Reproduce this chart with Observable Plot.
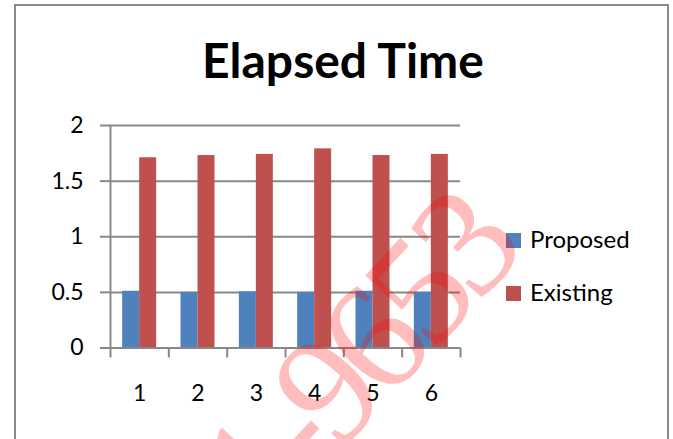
<!DOCTYPE html>
<html>
<head>
<meta charset="utf-8">
<script src="https://cdn.jsdelivr.net/npm/d3@7"></script>
<script src="https://cdn.jsdelivr.net/npm/@observablehq/plot@0.6"></script>
<style>
  html, body { margin: 0; padding: 0; background: #fff; }
  #wrap { position: relative; width: 673px; height: 439px; overflow: hidden; background: #fff; }
  #frame { position: absolute; left: 14px; top: 4px; width: 655px; height: 520px; border: 2px solid #8a8a8a; box-sizing: border-box; }
  #chart { position: absolute; left: 0; top: 0; }
  #overlay { position: absolute; left: 0; top: 0; pointer-events: none; }
</style>
</head>
<body>
<div id="wrap">
  <div id="frame"></div>
  <div id="chart"></div>
  <svg id="overlay" width="673" height="439"></svg>
</div>
<script>
// ---- data ----
const title = "Elapsed Time";
const categories = [1, 2, 3, 4, 5, 6];
const seriesNames = ["Proposed", "Existing"];
const proposed = [0.51, 0.50, 0.505, 0.50, 0.51, 0.50];
const existing = [1.71, 1.73, 1.74, 1.79, 1.73, 1.74];
const yTicks = [0, 0.5, 1, 1.5, 2];
const watermark = "ISSN: 2321-9653";

const colors = ["#4F81BD", "#C0504D"];
const rows = categories.flatMap((c, i) => [
  {cat: c, series: seriesNames[0], value: proposed[i]},
  {cat: c, series: seriesNames[1], value: existing[i]}
]);
const BAR = 0.2914; // bar width as fraction of category band
const edges = [...categories.map(c => c - 0.5), categories[categories.length - 1] + 0.5];
const GRAY = "#888888";
const FONT = "Lato, 'Open Sans', sans-serif";

const chart = Plot.plot({
  width: 673,
  height: 439,
  marginLeft: 110,
  marginRight: 213,
  marginTop: 125,
  marginBottom: 91.5,
  style: {fontFamily: FONT, fontSize: "23px", color: "#000", background: "transparent", overflow: "visible"},
  x: {type: "linear", domain: [edges[0], edges[edges.length - 1]]},
  y: {domain: [0, 2]},
  color: {domain: seriesNames, range: colors},
  marks: [
    Plot.gridY(yTicks, {stroke: GRAY, strokeOpacity: 1, strokeWidth: 2}),
    Plot.axisY(yTicks, {tickSize: 10, tickPadding: 17, stroke: GRAY, strokeWidth: 2, fill: "#000", fontSize: 23, tickFormat: d => String(d), label: null}),
    Plot.rectY(rows, {
      x1: d => d.series === seriesNames[0] ? d.cat - BAR : d.cat,
      x2: d => d.series === seriesNames[0] ? d.cat : d.cat + BAR,
      y1: d => 0,
      y2: "value",
      fill: "series"
    }),
    Plot.ruleX([edges[0]], {stroke: GRAY, strokeWidth: 2}),
    Plot.ruleY([0], {stroke: GRAY, strokeWidth: 2}),
    Plot.axisX(edges, {tickSize: 10, stroke: GRAY, strokeWidth: 2, tickFormat: () => "", label: null}),
    Plot.axisX(categories, {tickSize: 0, tickPadding: 37, fill: "#000", fontSize: 23, tickFormat: d => String(d), label: null})
  ]
});
document.getElementById("chart").appendChild(chart);

// ---- overlay: title, legend, watermark ----
const ov = d3.select("#overlay");
ov.append("text")
  .attr("x", 343).attr("y", 78)
  .attr("text-anchor", "middle")
  .attr("font-family", FONT)
  .attr("font-weight", "bold")
  .attr("font-size", 48)
  .attr("fill", "#000")
  .text(title);

const lg = ov.selectAll("g.lg").data(seriesNames).join("g").attr("class", "lg")
  .attr("transform", (d, i) => `translate(506, ${233 + i * 53})`);
lg.append("rect").attr("width", 15).attr("height", 15).attr("fill", (d, i) => colors[i]);
lg.append("text").attr("x", 24).attr("y", 15)
  .attr("font-family", FONT).attr("font-size", 24).attr("fill", "#000")
  .text(d => d);

ov.append("text")
  .attr("x", 523).attr("y", 255)
  .attr("text-anchor", "end")
  .attr("transform", "rotate(-47 523 255)")
  .attr("font-family", "'Liberation Serif', serif")
  .attr("font-size", 155)
  .attr("letter-spacing", -10)
  .attr("fill", "rgba(255,0,0,0.26)")
  .text(watermark);
</script>
</body>
</html>
